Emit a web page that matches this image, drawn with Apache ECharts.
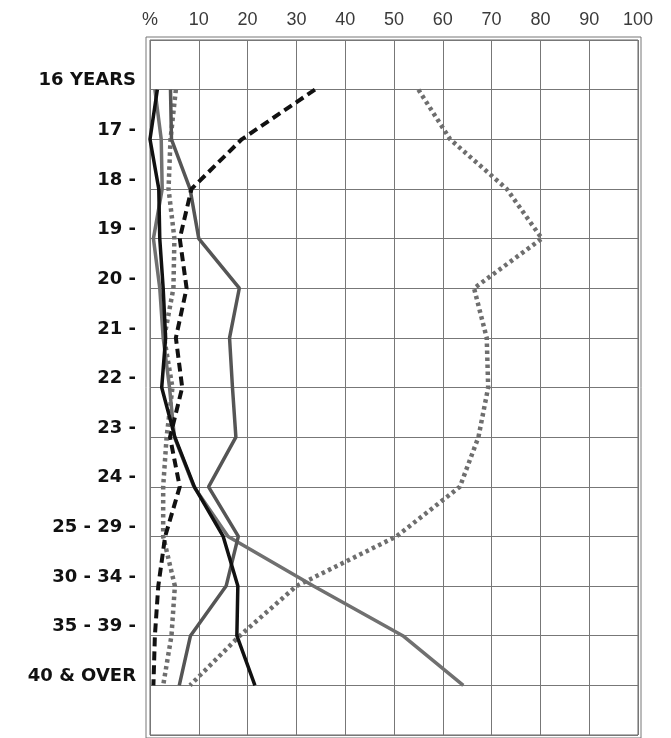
<!DOCTYPE html>
<html>
<head>
<meta charset="utf-8">
<script src="https://cdn.jsdelivr.net/npm/echarts@6/dist/echarts.min.js"></script>
<style>
  html, body { margin: 0; padding: 0; background: #fff; }
  #chart { width: 671px; height: 738px; }
</style>
</head>
<body>
<div id="chart"></div>
<script>
// age groups, top to bottom
const categories = ['16 YEARS', '17 -', '18 -', '19 -', '20 -', '21 -', '22 -', '23 -', '24 -',
  '25 - 29 -', '30 - 34 -', '35 - 39 -', '40 & OVER'];
const xTicks = [0, 10, 20, 30, 40, 50, 60, 70, 80, 90, 100];

// percentages
const blackSolid = [1.5, 0, 1.8, 2.0, 2.7, 3.2, 2.4, 5.1, 9.1, 15.0, 18.0, 17.8, 21.5];
const darkGraySolid = [4.2, 4.4, 8.2, 10.0, 18.3, 16.3, 16.9, 17.6, 12.0, 18.1, 15.6, 8.3, 6.0];
const lightGraySolid = [1.0, 2.3, 2.5, 0.7, 2.0, 2.7, 4.0, 5.0, 9.0, 16.0, 33.5, 51.8, 64.2];
const blackDashed = [33.8, 18.8, 8.5, 6.1, 7.5, 5.3, 6.6, 4.1, 6.1, 3.1, 1.7, 1.0, 0.7];
const grayDottedLeft = [5.3, 4.2, 3.8, 5.0, 4.8, 2.9, 4.6, 3.4, 2.7, 2.7, 5.1, 4.4, 2.7];
const grayDottedRight = [55.0, 61.5, 73.1, 80.3, 66.4, 69.0, 69.3, 67.3, 63.5, 50.5, 30.0, 18.4, 8.2];

const toPoints = vals => vals.map((v, i) => [v, i]);

const chart = echarts.init(document.getElementById('chart'));

function line(name, vals, color, width, type) {
  return {
    name: name,
    type: 'line',
    data: toPoints(vals),
    symbol: 'none',
    silent: true,
    lineStyle: { color: color, width: width, type: type, cap: 'butt' }
  };
}

const option = {
  backgroundColor: '#fff',
  animation: false,
  grid: { left: 150, right: 33, top: 40, bottom: 3, show: true, borderColor: '#666', borderWidth: 1 },
  graphic: [{
    type: 'rect',
    shape: { x: 146, y: 37, width: 495, height: 701 },
    style: { fill: 'none', stroke: '#777', lineWidth: 1 },
    silent: true
  }],
  xAxis: {
    type: 'value',
    position: 'top',
    min: 0,
    max: 100,
    interval: 10,
    axisLine: { show: false },
    axisTick: { show: false },
    axisLabel: {
      margin: 11,
      color: '#3a3a3a',
      fontFamily: 'Liberation Sans',
      fontSize: 18,
      formatter: v => (xTicks.indexOf(v) === 0 ? '%' : String(v))
    },
    splitLine: { show: true, lineStyle: { color: '#777', width: 1 } }
  },
  yAxis: {
    type: 'value',
    inverse: true,
    min: -1,
    max: 13,
    interval: 1,
    axisLine: { show: false },
    axisTick: { show: false },
    axisLabel: {
      margin: 14,
      color: '#111',
      fontFamily: 'DejaVu Sans',
      fontWeight: 'bold',
      fontSize: 18,
      verticalAlign: 'bottom',
      formatter: v => categories[v] || ''
    },
    splitLine: { show: true, lineStyle: { color: '#777', width: 1 } }
  },
  series: [
    line('dotted right', grayDottedRight, '#6e6e6e', 4.5, [3.5, 3.5]),
    line('dotted left', grayDottedLeft, '#6e6e6e', 4.5, [3.5, 3.5]),
    line('light gray', lightGraySolid, '#707070', 3.5, 'solid'),
    line('dark gray', darkGraySolid, '#555', 3.5, 'solid'),
    line('dashed', blackDashed, '#111', 4, [9, 5]),
    line('black', blackSolid, '#111', 3.5, 'solid')
  ]
};

chart.setOption(option);
</script>
</body>
</html>
